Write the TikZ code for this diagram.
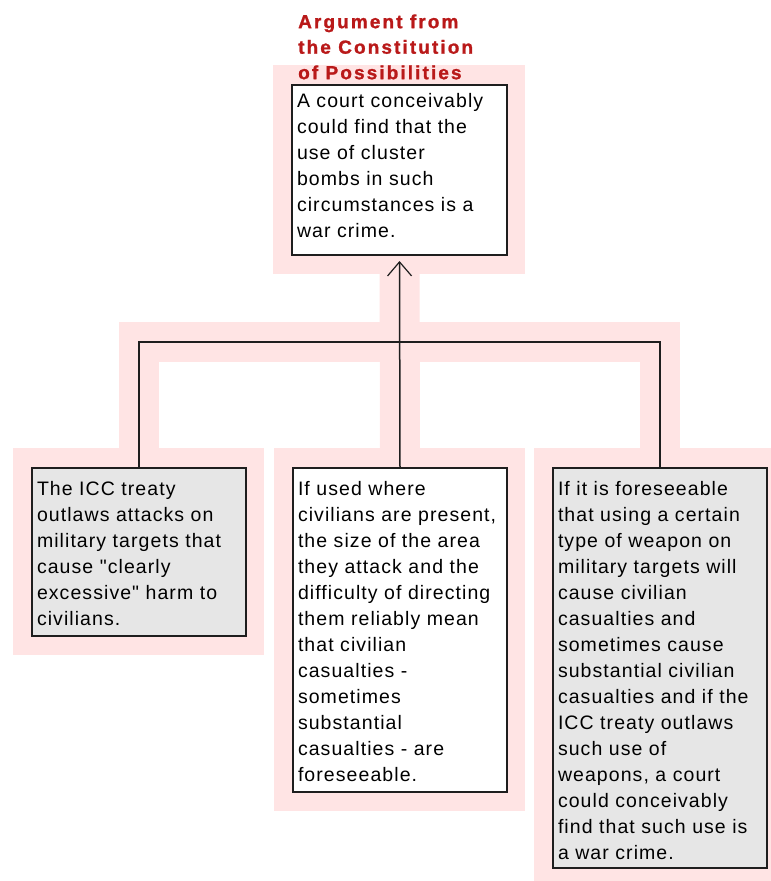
\documentclass[tikz,border=0pt]{standalone}
\usepackage{fontspec}
\setmainfont{Liberation Sans}
\newfontfamily\bodyfont{Liberation Sans}[LetterSpace=5.5]
\newfontfamily\headfont{Liberation Sans Bold}[LetterSpace=11, FakeBold=1.2]
\usetikzlibrary{arrows.meta}
\pgfdeclarelayer{background}
\pgfsetlayers{background,main}

\definecolor{halo}{RGB}{255,228,228}
\definecolor{boxgray}{RGB}{230,230,230}
\definecolor{headred}{RGB}{185,25,25}
\definecolor{edge}{RGB}{30,30,30}

% claim box: width #1, height #2, first baseline #3 below the top edge
\newcommand\claimtext[4]{%
  \parbox[c][#2][t]{#1}{\raggedright\rule{0pt}{#3}#4}}

\tikzset{
  claim/.style={draw=edge, line width=1.6pt, inner xsep=5pt, inner ysep=0pt,
    outer sep=0pt, anchor=north west, font=\bodyfont\fontsize{19.5}{26}\selectfont},
  plainclaim/.style={claim, fill=white},
  grayclaim/.style={claim, fill=boxgray},
  link/.style={draw=edge, line width=1.5pt},
  halolink/.style={draw=halo, line width=40pt},
}

\begin{document}
\begin{tikzpicture}[x=1pt, y=-1pt]
\useasboundingbox (0,0) rectangle (771,881);

% heading
\node[anchor=north west, inner sep=0pt, align=left, text=headred,
  font=\headfont\fontsize{19}{25.5}\selectfont] (head) at (298,8)
  {\rule{0pt}{20pt}Argument from\\the Constitution\\of Possibilities};

% conclusion
\node[plainclaim] (top) at (292,85) {\claimtext{205pt}{170pt}{22pt}{%
A court conceivably\\could find that the\\use of cluster\\bombs in such\\circumstances is a\\war crime.}};

% premises
\node[grayclaim] (left) at (32,468) {\claimtext{204pt}{168pt}{27pt}{%
The ICC treaty\\outlaws attacks on\\military targets that\\cause "clearly\\excessive" harm to\\civilians.}};

\node[plainclaim] (mid) at (293,468) {\claimtext{204pt}{324pt}{27pt}{%
If used where\\civilians are present,\\the size of the area\\they attack and the\\difficulty of directing\\them reliably mean\\that civilian\\casualties -\\sometimes\\substantial\\casualties - are\\foreseeable.}};

\node[grayclaim] (right) at (553,468) {\claimtext{204pt}{400pt}{27pt}{%
If it is foreseeable\\that using a certain\\type of weapon on\\military targets will\\cause civilian\\casualties and\\sometimes cause\\substantial civilian\\casualties and if the\\ICC treaty outlaws\\such use of\\weapons, a court\\could conceivably\\find that such use is\\a war crime.}};

\coordinate (join) at (400,342);

\begin{pgfonlayer}{background}
  % pink highlight round the argument
  \foreach \n in {top,left,mid,right}
    \fill[halo] ([shift={(-19pt,20pt)}]\n.north west) rectangle ([shift={(18pt,-19pt)}]\n.south east);
  \draw[halolink] (left.north) |- (join) -| (right.north);
  \draw[halolink] (mid.north) -- (top.south);
  % connectors
  \draw[link] (left.north) |- (join) -| (right.north);
  \draw[link, -{Straight Barb[length=14pt,width=24pt,line width=1.2pt]}, shorten >=6pt]
    (mid.north) -- (top.south);
\end{pgfonlayer}
\end{tikzpicture}
\end{document}
